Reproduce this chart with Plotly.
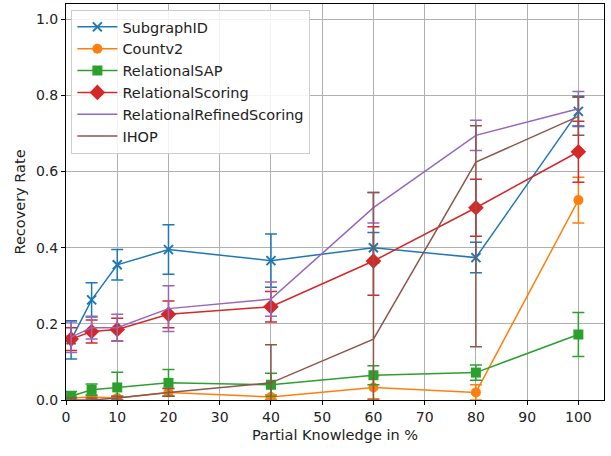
import plotly.graph_objects as go

knowledge = [1, 5, 10, 20, 40, 60, 80, 100]

subgraph_id = [0.158, 0.263, 0.355, 0.395, 0.366, 0.400, 0.374, 0.758]
subgraph_id_err = [0.05, 0.045, 0.04, 0.065, 0.07, 0.04, 0.04, 0.04]

countv2 = [0.005, 0.008, 0.005, 0.020, 0.008, 0.033, 0.020, 0.525]
countv2_err = [0.005, 0.006, 0.005, 0.01, 0.006, 0.03, 0.02, 0.06]

relational_sap = [0.010, 0.027, 0.033, 0.045, 0.040, 0.065, 0.072, 0.172]
relational_sap_err = [0.012, 0.015, 0.04, 0.035, 0.03, 0.025, 0.02, 0.058]

relational_scoring = [0.160, 0.180, 0.185, 0.225, 0.245, 0.365, 0.505, 0.652]
relational_scoring_err = [0.03, 0.03, 0.03, 0.035, 0.04, 0.09, 0.075, 0.08]

refined_scoring = [0.165, 0.190, 0.190, 0.240, 0.265, 0.505, 0.695, 0.765]
refined_scoring_err = [0.04, 0.03, 0.035, 0.06, 0.045, 0.04, 0.04, 0.045]

ihop = [0.000, 0.000, 0.005, 0.020, 0.045, 0.160, 0.625, 0.745]
ihop_err_plus = [0.005, 0.005, 0.005, 0.01, 0.10, 0.385, 0.095, 0.05]
ihop_err_minus = [0.005, 0.005, 0.005, 0.01, 0.10, 0.16, 0.485, 0.05]

series = [
    ("SubgraphID", subgraph_id, subgraph_id_err, None, "#1f77b4", "x-thin", 9),
    ("Countv2", countv2, countv2_err, None, "#ff7f0e", "circle", 10),
    ("RelationalSAP", relational_sap, relational_sap_err, None, "#2ca02c", "square", 10),
    ("RelationalScoring", relational_scoring, relational_scoring_err, None, "#d62728", "diamond", 12),
    ("RelationalRefinedScoring", refined_scoring, refined_scoring_err, None, "#9467bd", None, 0),
    ("IHOP", ihop, ihop_err_plus, ihop_err_minus, "#8c564b", None, 0),
]

fig = go.Figure()
for name, vals, err_up, err_down, color, symbol, size in series:
    marker = dict(color=color, size=size)
    if symbol:
        marker["symbol"] = symbol
        if symbol == "x-thin":
            marker["line"] = dict(color=color, width=2)
    error_y = dict(type="data", array=err_up, visible=True,
                   color=color, thickness=1.5, width=6)
    if err_down is not None:
        error_y["symmetric"] = False
        error_y["arrayminus"] = err_down
    fig.add_trace(go.Scatter(
        x=knowledge, y=vals, name=name,
        mode="lines+markers" if symbol else "lines",
        line=dict(color=color, width=1.5),
        marker=marker,
        error_y=error_y,
    ))

axis_common = dict(
    showline=True, linecolor="black", linewidth=1, mirror=True,
    ticks="outside", ticklen=4, tickcolor="black",
    showgrid=True, gridcolor="#b0b0b0", gridwidth=1,
    zeroline=False,
    tickfont=dict(family="DejaVu Sans", size=14, color="#222222"),
)

fig.update_layout(
    width=611, height=456,
    margin=dict(l=66, r=7, t=4, b=56),
    paper_bgcolor="white", plot_bgcolor="white",
    font=dict(family="DejaVu Sans", size=14, color="#222222"),
    xaxis=dict(range=[0, 105], tickvals=list(range(0, 101, 10)),
               title=dict(text="Partial Knowledge in %", standoff=6,
                          font=dict(size=14.5)),
               **axis_common),
    yaxis=dict(range=[0, 1.04], tickvals=[0, 0.2, 0.4, 0.6, 0.8, 1.0],
               tickformat=".1f",
               title=dict(text="Recovery Rate", standoff=6,
                          font=dict(size=14.5)),
               **axis_common),
    legend=dict(x=0.01, y=0.985, xanchor="left", yanchor="top",
                bgcolor="rgba(255,255,255,0.85)", bordercolor="#cccccc",
                borderwidth=1, font=dict(size=14.5), tracegroupgap=0,
                itemwidth=40),
    showlegend=True,
)

fig.write_html("out.html")
